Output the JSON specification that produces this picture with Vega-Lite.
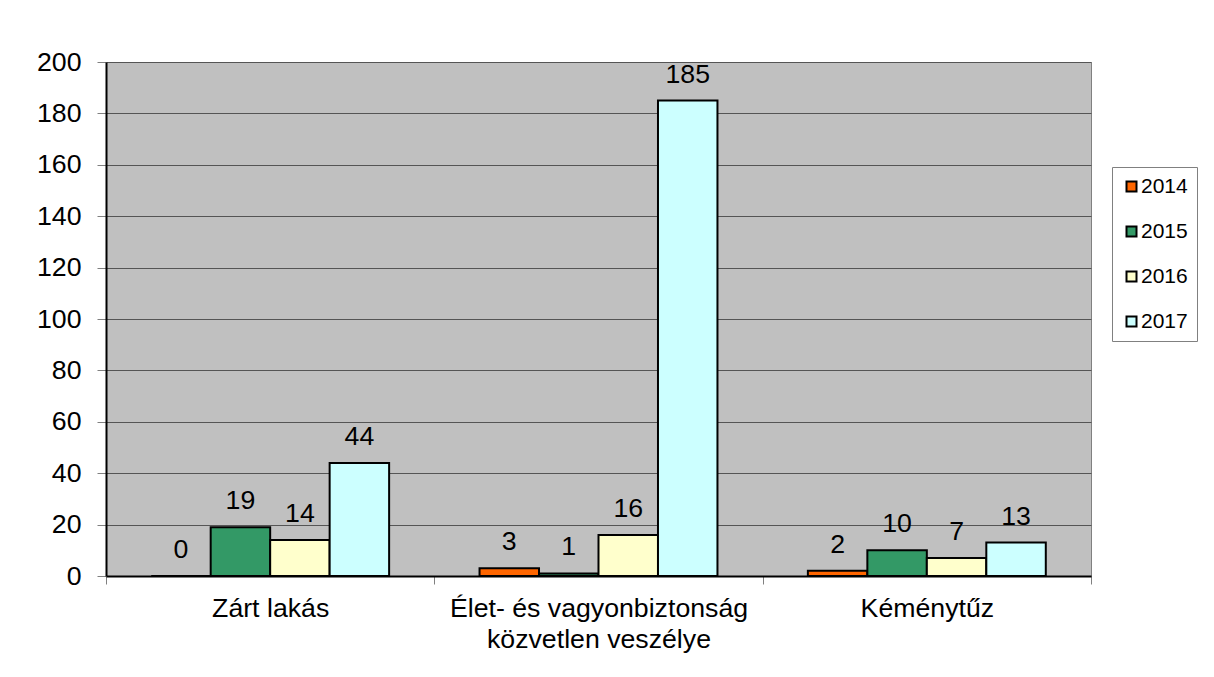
{
  "$schema": "https://vega.github.io/schema/vega-lite/v6.json",
  "width": 985,
  "height": 514,
  "autosize": {"type": "none"},
  "padding": {"left": 106, "top": 62, "right": 123, "bottom": 101},
  "background": "white",
  "config": {
    "font": "Liberation Sans",
    "view": {"fill": "#C0C0C0", "stroke": "#808080", "strokeWidth": 1}
  },
  "data": {
    "values": [
      {"cat": "Zárt lakás", "year": "2014", "value": 0},
      {"cat": "Zárt lakás", "year": "2015", "value": 19},
      {"cat": "Zárt lakás", "year": "2016", "value": 14},
      {"cat": "Zárt lakás", "year": "2017", "value": 44},
      {"cat": "Élet- és vagyonbiztonság|közvetlen veszélye", "year": "2014", "value": 3},
      {"cat": "Élet- és vagyonbiztonság|közvetlen veszélye", "year": "2015", "value": 1},
      {"cat": "Élet- és vagyonbiztonság|közvetlen veszélye", "year": "2016", "value": 16},
      {"cat": "Élet- és vagyonbiztonság|közvetlen veszélye", "year": "2017", "value": 185},
      {"cat": "Kéménytűz", "year": "2014", "value": 2},
      {"cat": "Kéménytűz", "year": "2015", "value": 10},
      {"cat": "Kéménytűz", "year": "2016", "value": 7},
      {"cat": "Kéménytűz", "year": "2017", "value": 13}
    ]
  },
  "encoding": {
    "x": {
      "field": "cat",
      "type": "nominal",
      "sort": ["Zárt lakás", "Élet- és vagyonbiztonság|közvetlen veszélye", "Kéménytűz"],
      "scale": {"paddingInner": 0, "paddingOuter": 0},
      "axis": {
        "title": null,
        "tickBand": "extent",
        "tickSize": 8,
        "tickColor": "#808080",
        "domainColor": "black",
        "domainWidth": 2,
        "labelFontSize": 26.7,
        "labelColor": "black",
        "labelPadding": 11,
        "labelAngle": 0,
        "labelLimit": 0,
        "labelLineHeight": 31,
        "labelExpr": "datum.value ? split(datum.value, '|') : ''",
        "grid": false
      }
    },
    "xOffset": {
      "field": "year",
      "type": "nominal",
      "scale": {"paddingInner": 0, "paddingOuter": 0.76}
    },
    "y": {
      "field": "value",
      "type": "quantitative",
      "scale": {"domain": [0, 200], "nice": false},
      "axis": {
        "title": null,
        "values": [0, 20, 40, 60, 80, 100, 120, 140, 160, 180, 200],
        "tickSize": 9,
        "tickColor": "#808080",
        "domainColor": "black",
        "domainWidth": 2,
        "grid": true,
        "gridColor": "#555555",
        "gridWidth": 1,
        "gridOpacity": 1,
        "labelFontSize": 26.7,
        "labelColor": "black",
        "labelPadding": 16
      }
    }
  },
  "layer": [
    {
      "mark": {"type": "bar", "stroke": "black", "strokeWidth": 2},
      "encoding": {
        "color": {
          "field": "year",
          "type": "nominal",
          "scale": {
            "domain": ["2014", "2015", "2016", "2017"],
            "range": ["#FF6600", "#339966", "#FFFFCC", "#CCFFFF"]
          },
          "legend": {
            "orient": "none",
            "legendX": 1006,
            "legendY": 105,
            "title": null,
            "direction": "vertical",
            "symbolType": "square",
            "symbolSize": 100,
            "symbolStrokeColor": "black",
            "symbolStrokeWidth": 2,
            "labelFontSize": 21,
            "labelColor": "black",
            "labelOffset": -1,
            "rowPadding": 23,
            "padding": 9,
            "strokeColor": "#808080",
            "fillColor": "white"
          }
        }
      }
    },
    {
      "mark": {"type": "text", "dy": -18, "baseline": "alphabetic", "fontSize": 26.7, "color": "black"},
      "encoding": {"text": {"field": "value", "type": "quantitative"}}
    }
  ]
}
